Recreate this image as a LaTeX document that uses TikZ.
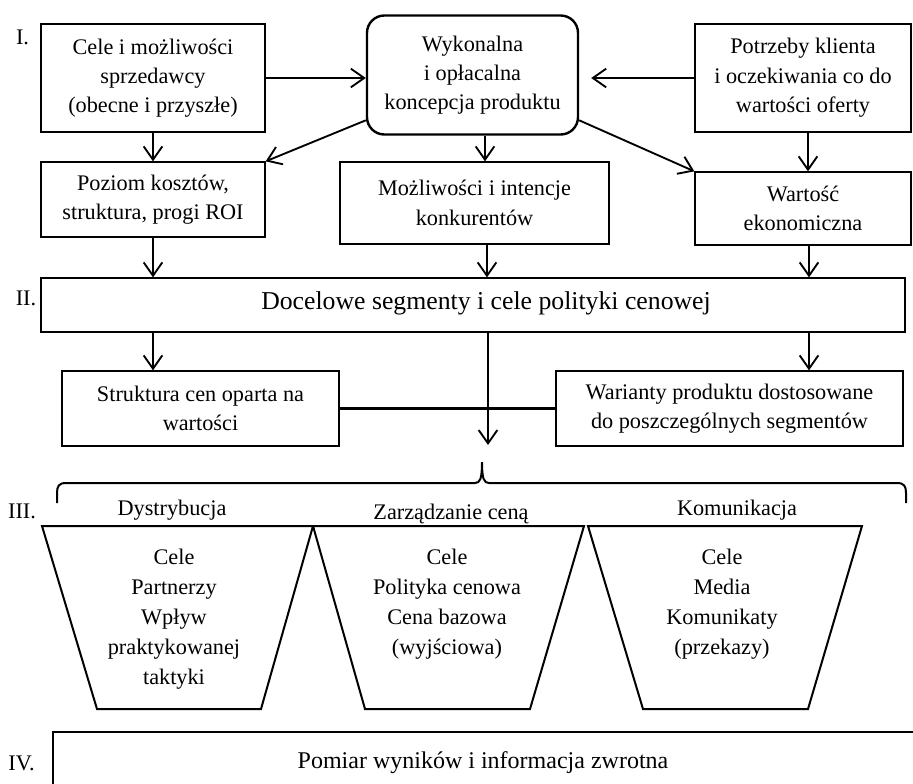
\documentclass[tikz,border=0pt]{standalone}
\usepackage{fontspec}
\setmainfont{Liberation Serif}
\usetikzlibrary{arrows.meta}
\newlength{\pxu}\setlength{\pxu}{0.75pt}
\newcommand{\boxfont}{\fontsize{16.7}{22}\selectfont}
\newcommand{\trapfont}{\fontsize{16.7}{22.5}\selectfont}
\newcommand{\headfont}{\fontsize{19.3}{23}\selectfont}
\newcommand{\footfont}{\fontsize{18}{22}\selectfont}

\begin{document}
\begin{tikzpicture}[x=0.75pt,y=-0.75pt,
  box/.style={draw, line width=1pt, align=center, font=\boxfont, inner sep=0pt},
  rbox/.style={box, rounded corners=13pt, line width=1.8pt},
  arr/.style={-{Straight Barb[length=10pt,width=14pt]}, line width=1.4pt},
  lbl/.style={font=\boxfont, anchor=base, inner sep=0pt},
  traptext/.style={font=\trapfont, align=center, anchor=north, inner sep=0pt},
  trap/.style={draw, line width=1.5pt, line join=miter},
  brace/.style={draw, line width=1.5pt}]
\useasboundingbox (0,0) rectangle (913,783);

% level labels
\node[lbl] (l1) at (22.5,44) {I.};
\node[lbl] (l2) at (26,305) {II.};
\node[lbl] (l3) at (22,518) {III.};
\node[lbl] (l4) at (21.5,770) {IV.};

% level I
\node[box, minimum width=224\pxu, minimum height=108\pxu] (A) at (153,78)
  {Cele i możliwości\\sprzedawcy\\(obecne i przyszłe)};
\node[rbox, minimum width=211\pxu, minimum height=119\pxu] (B) at (472.5,75)
  {Wykonalna\\i opłacalna\\koncepcja produktu};
\node[box, minimum width=216\pxu, minimum height=108\pxu] (C) at (803,78)
  {Potrzeby klienta\\i oczekiwania co do\\wartości oferty};
\node[box, minimum width=224\pxu, minimum height=75\pxu] (D) at (153,199.5)
  {Poziom kosztów,\\struktura, progi ROI};
\node[box, minimum width=269\pxu, minimum height=82\pxu] (E) at (474.5,203)
  {Możliwości i intencje\\konkurentów};
\node[box, minimum width=216\pxu, minimum height=73\pxu] (F) at (803,208.5)
  {Wartość\\ekonomiczna};

\draw[arr] (A.east) -- (A.east -| B.west);
\draw[arr, shorten >=9pt] (C.west) -- (C.west -| B.east);
\draw[arr] (B.203) -- (D.north east);
\draw[arr] (B.337) -- (F.north west);
\draw[arr] (B.south -| 485,0) -- (E.north -| 485,0);
\draw[arr] (A.south) -- (D.north);
\draw[arr] (C.south -| 808,0) -- (F.north -| 808,0);

% level II
\node[box, minimum width=864\pxu, minimum height=54\pxu] (II) at (473,305) {};
\node[font=\headfont, anchor=base, inner sep=0pt] (IItext) at (486,309)
  {Docelowe segmenty i cele polityki cenowej};

\draw[arr] (D.south) -- (D.south |- II.north);
\draw[arr] (E.south -| 487,0) -- (II.north -| 487,0);
\draw[arr] (F.south -| 809,0) -- (II.north -| 809,0);

\node[box, minimum width=277\pxu, minimum height=75\pxu] (G) at (200.5,408.5)
  {Struktura cen oparta na\\wartości};
\node[box, minimum width=347\pxu, minimum height=75\pxu] (H) at (729.5,408.5)
  {Warianty produktu dostosowane\\do poszczególnych segmentów};

\draw[arr] (II.south -| 153,0) -- (G.north -| 153,0);
\draw[arr] (II.south -| 809,0) -- (H.north -| 809,0);
\coordinate (split) at (488,445);
\draw[arr] (II.south -| split) -- (split);
\draw[line width=2.5pt] (G.east) -- (H.west);

% level III: brace over the three instruments
\draw[brace] (57,503) -- (57,493) .. controls (57,486) and (59,483) .. (66,483)
  -- (475,483) .. controls (480,483) and (482,479) .. (482,462)
  .. controls (482,479) and (484,483) .. (489,483)
  -- (897,483) .. controls (904,483) and (906,486) .. (906,493) -- (906,503);

\node[lbl] (h1) at (172,515) {Dystrybucja};
\node[lbl] (h2) at (451,519) {Zarządzanie ceną};
\node[lbl] (h3) at (737,515) {Komunikacja};

\draw[trap] (42,526) -- (313,526) -- (261,709) -- (97,709) -- cycle;
\draw[trap] (313,526) -- (584,526) -- (530,709) -- (365,709) -- cycle;
\draw[trap] (588,526) -- (862,526) -- (808,709) -- (643,709) -- cycle;

\node[traptext] (t1) at (174,549) {Cele\\Partnerzy\\Wpływ\\praktykowanej\\taktyki};
\node[traptext] (t2) at (447,549) {Cele\\Polityka cenowa\\Cena bazowa\\(wyjściowa)};
\node[traptext] (t3) at (722,549) {Cele\\Media\\Komunikaty\\(przekazy)};

% level IV
\draw[line width=1pt] (914,732) -- (53,732) -- (53,784);
\node[font=\footfont, anchor=base, inner sep=0pt] (IV) at (483,768)
  {Pomiar wyników i informacja zwrotna};
\end{tikzpicture}
\end{document}
